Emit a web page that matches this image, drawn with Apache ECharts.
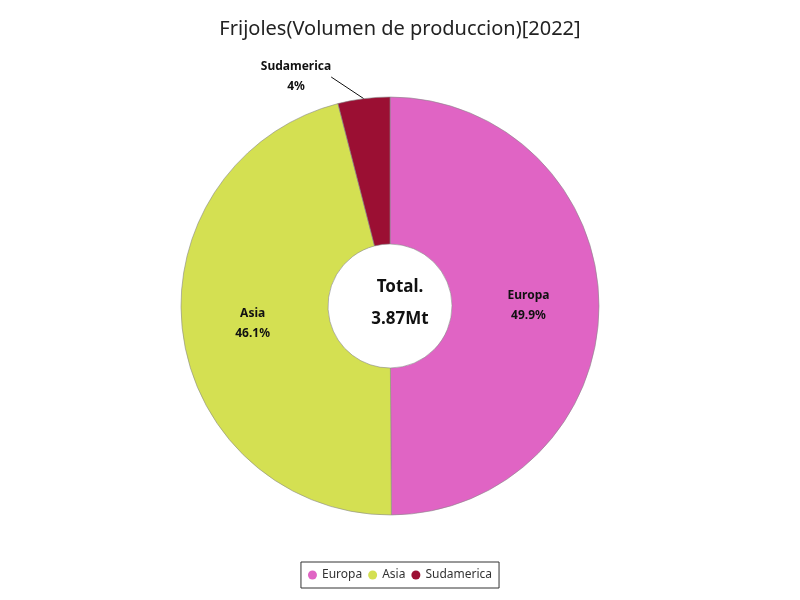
<!DOCTYPE html>
<html><head><meta charset="utf-8">
<script src="https://cdn.jsdelivr.net/npm/echarts@6/dist/echarts.min.js"></script>
<style>html,body{margin:0;padding:0;background:#fff}#c{width:800px;height:600px}</style>
</head><body><div id="c"></div>
<script>
const categories = ['Europa', 'Asia', 'Sudamerica'];
const values = [1.931, 1.784, 0.155];
const colors = ['#e064c4', '#d4e052', '#9b0f33'];
const totalLabel = '3.87Mt';

const chart = echarts.init(document.getElementById('c'));
chart.setOption({
  title: { text: 'Frijoles(Volumen de produccion)[2022]', left: 'center', top: 14,
    textStyle: { fontFamily: 'Noto Sans', fontSize: 20, fontWeight: 'normal', color: '#222' } },
  legend: { bottom: 12, left: 'center', icon: 'circle', itemWidth: 9, itemHeight: 9, itemGap: 6,
    borderColor: '#333', borderWidth: 1, padding: [7, 7], borderRadius: 0,
    itemStyle: { borderWidth: 0 },
    textStyle: { fontFamily: 'Noto Sans', fontSize: 12, color: '#333' }, data: categories },
  graphic: [
    { type: 'text', left: 'center', top: 279, style: { text: 'Total.', font: 'bold 17px Noto Sans', fill: '#111', textAlign: 'center' } },
    { type: 'text', left: 'center', top: 311, style: { text: totalLabel, font: 'bold 17px Noto Sans', fill: '#111', textAlign: 'center' } }
  ],
  series: [{
    type: 'pie', center: [390, 306], radius: [62, 209], startAngle: 90, clockwise: true,
    itemStyle: { borderColor: '#888', borderWidth: 0.6 },
    label: { position: 'inside', formatter: p => p.name + '\n' + (+p.percent.toFixed(1)) + '%',
      fontFamily: 'Noto Sans', fontSize: 12, fontWeight: 'bold', color: '#111', lineHeight: 20 },
    labelLayout: p => p.dataIndex === 2 ? { x: 296, y: 77, align: 'center', verticalAlign: 'middle' } : {},
    data: categories.map((n, i) => {
      const d = { name: n, value: values[i], itemStyle: { color: colors[i] } };
      if (n === 'Sudamerica') {
        d.label = { position: 'outside', color: '#111', align: 'center' };
        d.labelLine = { show: true, length: 20, length2: 0, lineStyle: { color: '#111', width: 1 } };
      }
      return d;
    })
  }]
});
</script></body></html>
